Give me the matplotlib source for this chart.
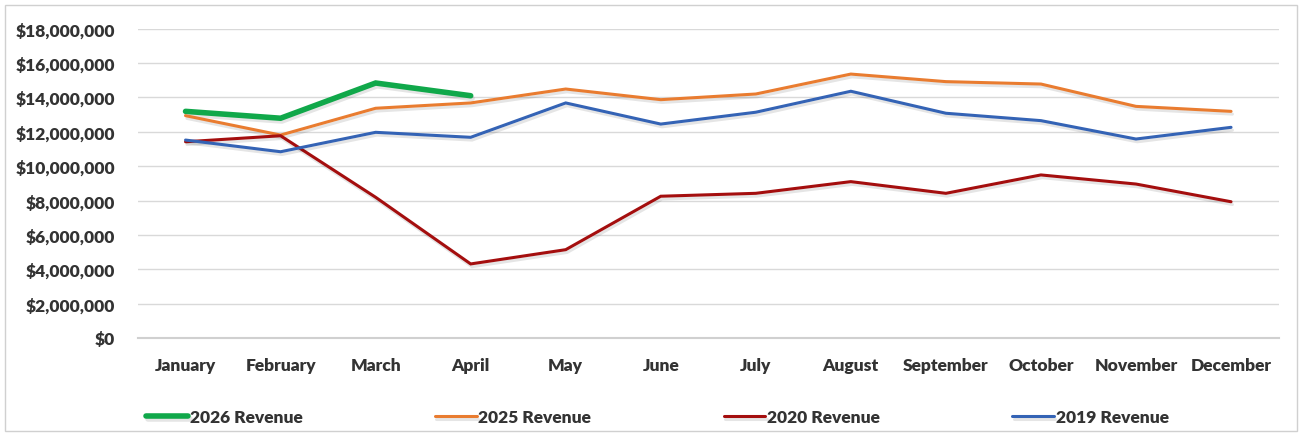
import matplotlib
matplotlib.use("Agg")
import matplotlib.pyplot as plt
import matplotlib.patheffects as pe
from matplotlib.ticker import FuncFormatter, MultipleLocator
from matplotlib.patches import Rectangle

months = ["January", "February", "March", "April", "May", "June", "July",
          "August", "September", "October", "November", "December"]
rev_2026 = [13190000, 12790000, 14840000, 14100000]
rev_2025 = [12940000, 11810000, 13370000, 13680000, 14490000, 13870000,
            14200000, 15360000, 14920000, 14780000, 13480000, 13190000]
rev_2020 = [11420000, 11770000, 8190000, 4310000, 5140000, 8250000,
            8420000, 9100000, 8420000, 9490000, 8960000, 7930000]
rev_2019 = [11520000, 10840000, 11970000, 11680000, 13680000, 12450000,
            13140000, 14360000, 13080000, 12650000, 11580000, 12260000]

series = [
    ("2026 Revenue", rev_2026, "#10A84A", 4.0),
    ("2025 Revenue", rev_2025, "#E97C30", 2.2),
    ("2020 Revenue", rev_2020, "#A40E0E", 2.2),
    ("2019 Revenue", rev_2019, "#3463B5", 2.2),
]

plt.rcParams['font.family'] = ['Lato', 'DejaVu Sans']
FS = 12.5
fig = plt.figure(figsize=(13.02, 4.35), dpi=100)
fig.patches.append(Rectangle((0.004, 0.008), 0.992, 0.978, transform=fig.transFigure,
                             fill=False, edgecolor="#D0D0D0", linewidth=1.0))
ax = fig.add_axes([0.106, 0.2207, 0.876, 0.711])

shadow = [pe.SimpleLineShadow(offset=(1.0, -2.0), shadow_color="black", alpha=0.10), pe.Normal()]
for i, (name, vals, col, lw) in enumerate(series):
    ax.plot(range(len(vals)), vals, color=col, linewidth=lw, label=name,
            solid_capstyle="round", solid_joinstyle="miter",
            path_effects=shadow, zorder=3 + i)

ax.set_xlim(-0.5, len(months) - 0.5)
ax.set_ylim(0, 18000000)
ax.yaxis.set_major_locator(MultipleLocator(2000000))
ax.yaxis.set_major_formatter(FuncFormatter(lambda v, p: "${:,.0f}".format(v)))
ax.set_xticks(range(len(months)))
ax.set_xticklabels(months)
ax.grid(axis="y", color="#D9D9D9", linewidth=1.0)
ax.set_axisbelow(True)
for s in ["top", "right", "left"]:
    ax.spines[s].set_visible(False)
ax.spines["bottom"].set_color("#D0D0D0")
ax.spines["bottom"].set_linewidth(1.5)
ax.tick_params(axis="both", length=0, labelsize=FS, labelcolor="#333333")
ax.tick_params(axis="x", pad=14)
ax.tick_params(axis="y", pad=16.5)
for lab in ax.get_xticklabels() + ax.get_yticklabels():
    lab.set_fontweight("heavy")

leg = fig.legend(loc="lower left", bbox_to_anchor=(0.1125, 0.021, 0.785, 0.08),
                 ncol=4, mode="expand", frameon=False, handlelength=2.4,
                 handletextpad=0.1, borderaxespad=0, borderpad=0,
                 prop={"weight": "heavy", "size": FS})
for t in leg.get_texts():
    t.set_color("#333333")

fig.savefig("out.png", dpi=100)
